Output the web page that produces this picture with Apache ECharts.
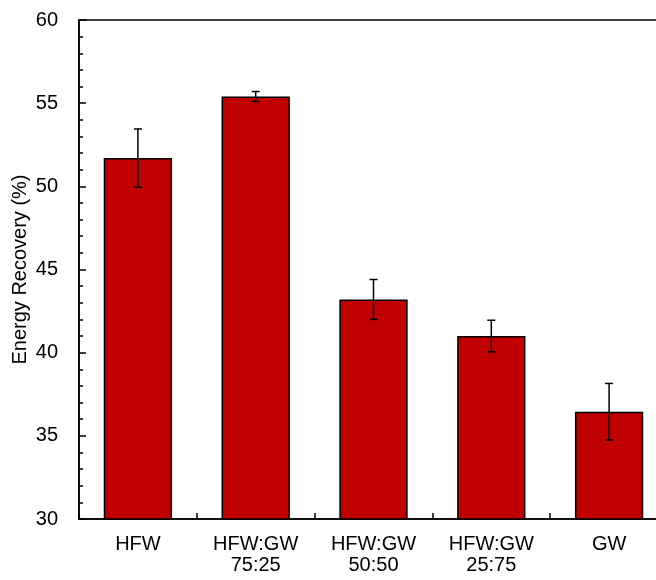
<!DOCTYPE html>
<html><head><meta charset="utf-8">
<script src="https://cdn.jsdelivr.net/npm/echarts@6/dist/echarts.min.js"></script>
<style>html,body{margin:0;padding:0;background:#fff}#c{width:656px;height:580px}</style>
</head><body><div id="c"></div>
<script>
const categories = ['HFW', 'HFW:GW\n75:25', 'HFW:GW\n50:50', 'HFW:GW\n25:75', 'GW'];
const values = [51.7, 55.4, 43.2, 41.0, 36.45];
const errors = [1.75, 0.3, 1.2, 0.95, 1.7];
const yTicks = [30, 35, 40, 45, 50, 55, 60];

const chart = echarts.init(document.getElementById('c'));
const font = 'Liberation Sans, Arial, sans-serif';
chart.setOption({
  animation: false,
  grid: {left: 79, width: 589, top: 20, height: 499, outerBoundsMode: 'none', containLabel: false,
         show: true, borderColor: '#000', borderWidth: 1.5, backgroundColor: 'transparent'},
  xAxis: {
    type: 'category', data: categories,
    axisLine: {lineStyle: {color: '#000', width: 1.5}},
    axisTick: {show: true, inside: true, length: 6, lineStyle: {color: '#000', width: 1.5}},
    axisLabel: {color: '#000', fontSize: 20, fontFamily: font, margin: 15, lineHeight: 21}
  },
  yAxis: {
    type: 'value', min: yTicks[0], max: yTicks[yTicks.length - 1], interval: 5,
    name: 'Energy Recovery (%)', nameLocation: 'middle', nameGap: 49, nameMoveOverlap: false,
    nameTextStyle: {color: '#000', fontSize: 20, fontFamily: font},
    axisLine: {show: true, lineStyle: {color: '#000', width: 1.5}},
    axisTick: {show: true, inside: true, length: 7, lineStyle: {color: '#000', width: 1.5}},
    minorTick: {show: true, splitNumber: 5, length: 4, lineStyle: {color: '#000', width: 1.5}},
    splitLine: {show: false},
    axisLabel: {color: '#000', fontSize: 20, fontFamily: font, margin: 21}
  },
  series: [{
    type: 'bar', data: values, barWidth: '58%',
    itemStyle: {color: '#C00000', borderColor: '#000', borderWidth: 1.5}
  }, {
    type: 'custom', z: 10,
    data: values.map((v, i) => [i, v - errors[i], v + errors[i]]),
    renderItem: function (params, api) {
      const lo = api.coord([api.value(0), api.value(1)]);
      const hi = api.coord([api.value(0), api.value(2)]);
      const w = 4;
      const st = {stroke: '#000', lineWidth: 1.5};
      return {type: 'group', children: [
        {type: 'line', shape: {x1: lo[0], y1: lo[1], x2: hi[0], y2: hi[1]}, style: st},
        {type: 'line', shape: {x1: lo[0] - w, y1: lo[1], x2: lo[0] + w, y2: lo[1]}, style: st},
        {type: 'line', shape: {x1: hi[0] - w, y1: hi[1], x2: hi[0] + w, y2: hi[1]}, style: st}
      ]};
    }
  }]
});
</script></body></html>
